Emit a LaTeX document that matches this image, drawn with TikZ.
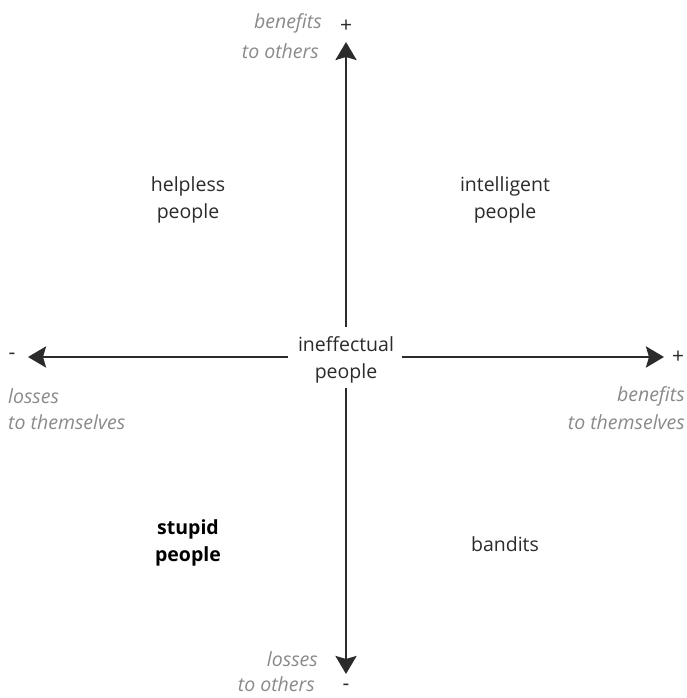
\documentclass[tikz,border=0pt]{standalone}
\usepackage{fontspec}
\setmainfont{Open Sans}
\usetikzlibrary{arrows.meta}
\definecolor{ink}{HTML}{2B2B2B}
\definecolor{lbl}{HTML}{8A8A8A}
\tikzset{
  axis/.style={draw=ink, line width=2.8pt, -{Stealth[width=21pt,length=18pt,inset=3pt]}},
  quad/.style={text=ink, font=\fontsize{19.5}{26.5}\selectfont, align=center, inner sep=0pt},
  axlbl/.style={text=lbl, font=\fontsize{19.5}{26}\selectfont\itshape, inner sep=0pt},
  sign/.style={text=ink, font=\fontsize{21}{21}\selectfont, inner sep=0pt}
}
\begin{document}
\begin{tikzpicture}[x=1pt,y=1pt]
\useasboundingbox (0,0) rectangle (686,698);
% centre
\node[quad] (c) at (346,338) {ineffectual\\people};
% axis end points
\coordinate (top) at (346,656);
\coordinate (bot) at (346,24);
\coordinate (lft) at (28,341);
\coordinate (rgt) at (664,341);
\coordinate (ctop) at (346,371);
\coordinate (cbot) at (346,310);
\coordinate (clft) at (288,341);
\coordinate (crgt) at (402,341);
\draw[axis] (ctop) -- (top);
\draw[axis] (cbot) -- (bot);
\draw[axis] (clft) -- (lft);
\draw[axis] (crgt) -- (rgt);
% quadrants
\node[quad] (hp) at (188,498) {helpless\\people};
\node[quad] (ip) at (505,498) {intelligent\\people};
\node[quad, font=\fontsize{19.5}{26.5}\selectfont\bfseries, text=black] (sp) at (188,155) {stupid\\people};
\node[quad] (bd) at (505,154) {bandits};
% signs
\node[sign] (sp1) at (346,672) {+};
\node[sign] (sm1) at (346,11) {-};
\node[sign] (sm2) at (12,342) {-};
\node[sign] (sp2) at (678,341) {+};
% axis labels
\node[axlbl, anchor=east] (b1) at (322,675) {benefits};
\node[axlbl, anchor=east] (b2) at (319,647) {to others};
\node[axlbl, anchor=west] (l1) at (8,302) {losses};
\node[axlbl, anchor=west] (l2) at (8,276) {to themselves};
\node[axlbl, anchor=east] (r1) at (685,302) {benefits};
\node[axlbl, anchor=east] (r2) at (685,276) {to themselves};
\node[axlbl, anchor=east] (d1) at (318,39) {losses};
\node[axlbl, anchor=east] (d2) at (315,14) {to others};
\end{tikzpicture}
\end{document}
